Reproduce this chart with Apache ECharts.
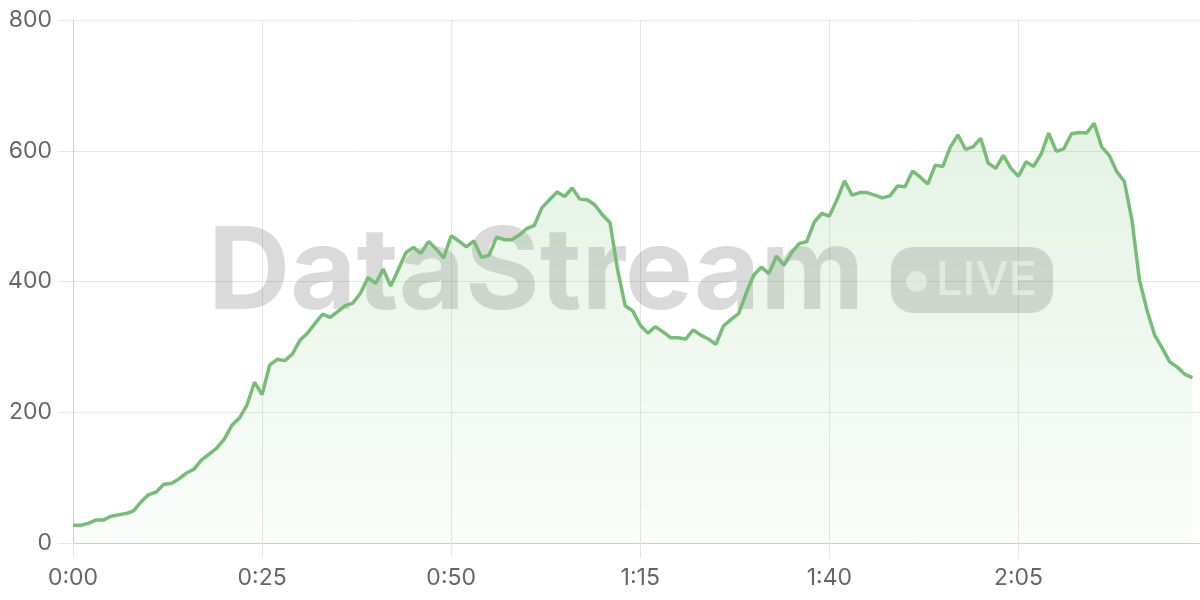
<!DOCTYPE html>
<html><head><meta charset="utf-8">
<script src="https://cdn.jsdelivr.net/npm/echarts@6/dist/echarts.min.js"></script>
<style>html,body{margin:0;padding:0;background:#fff}#c{width:1200px;height:600px}</style>
</head><body><div id="c"></div>
<script>
// minutes since start (one sample per minute)
const minutes = Array.from({length:149}, (_, i) => i);
const values = [
  27,27,30,35,35,41,43,45,49,63,
  74,78,90,91,98,107,113,127,136,145,
  159,180,191,211,246,227,272,281,279,289,
  310,321,336,350,345,354,363,367,382,406,
  397,419,393,418,444,452,443,461,450,436,
  470,462,453,462,437,440,468,464,464,471,
  481,486,513,525,537,530,543,526,525,517,
  502,490,418,363,355,333,321,331,323,314,
  314,312,326,318,312,304,332,342,351,382,
  410,422,412,439,425,444,458,461,491,504,
  500,525,554,532,536,536,532,528,531,546,
  545,569,560,549,578,576,606,624,602,606,
  619,581,573,593,573,561,583,576,595,627,
  599,603,626,628,627,642,606,593,568,553,
  494,402,356,318,298,277,269,258,253
];
const yTicks = [0,200,400,600,800];
const watermarkTitle = 'DataStream';
const watermarkBadge = 'LIVE';

const fmt = v => Math.floor(v/60) + ':' + String(v%60).padStart(2,'0');
const chart = echarts.init(document.getElementById('c'), null, {renderer:'canvas'});
const green = '#76bd76';
chart.setOption({
  animation:false,
  grid:{left:73,right:-1,top:20,bottom:57},
  graphic:[
    {type:'text', z:1, left:208, top:218, style:{text:watermarkTitle, fill:'rgba(0,0,0,0.145)', font:'bold 114px Inter, "Liberation Sans", sans-serif'}},
    {type:'rect', z:1, left:891, top:247, shape:{width:162, height:66, r:22}, style:{fill:'rgba(0,0,0,0.145)'}},
    {type:'circle', z:1, left:906, top:271, shape:{r:10.5}, style:{fill:'rgba(255,255,255,0.6)'}},
    {type:'text', z:1, left:936, top:257, style:{text:watermarkBadge, fill:'rgba(255,255,255,0.6)', font:'500 47px Inter, "Liberation Sans", sans-serif'}}
  ],
  xAxis:{
    type:'value', min:0, max:149, interval:25,
    axisLine:{show:true, lineStyle:{color:'#cfcfcf', width:1}},
    axisTick:{show:true, length:15, lineStyle:{color:'#e6e6e6'}},
    splitLine:{show:true, lineStyle:{color:'#e6e6e6'}},
    axisLabel:{formatter:fmt, color:'#666', fontSize:23, margin:24, showMaxLabel:false, fontFamily:'Inter, "Noto Sans", sans-serif'}
  },
  yAxis:{
    type:'value', min:yTicks[0], max:yTicks[yTicks.length-1], interval:200,
    axisLine:{show:true, lineStyle:{color:'#cfcfcf', width:1}},
    axisTick:{show:true, length:15, lineStyle:{color:'#e6e6e6'}},
    splitLine:{show:true, lineStyle:{color:'#e6e6e6'}},
    axisLabel:{color:'#666', fontSize:23, margin:21, fontFamily:'Inter, "Noto Sans", sans-serif'}
  },
  series:[{
    type:'line', z:2,
    data: minutes.map((m,i)=>[m, values[i]]),
    showSymbol:false, smooth:false,
    lineStyle:{color:green, width:3.5},
    areaStyle:{color:new echarts.graphic.LinearGradient(0,0,0,1,[
      {offset:0,color:'rgba(118,189,118,0.28)'},
      {offset:1,color:'rgba(118,189,118,0.05)'}
    ])}
  }]
});
</script></body></html>
